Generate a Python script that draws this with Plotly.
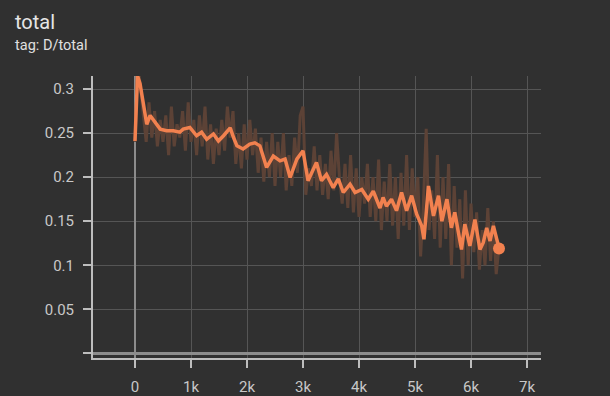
import plotly.graph_objects as go

# raw values, every 50 steps
raw_steps = list(range(0, 6501, 50))
raw_vals = [0.24, 0.33, 0.30, 0.27, 0.24, 0.285, 0.245, 0.275, 0.235, 0.265,
            0.24, 0.27, 0.225, 0.28, 0.235, 0.26, 0.245, 0.275, 0.23, 0.285,
            0.24, 0.265, 0.225, 0.27, 0.235, 0.28, 0.22, 0.26, 0.215, 0.255,
            0.225, 0.265, 0.23, 0.28, 0.245, 0.275, 0.215, 0.25, 0.21, 0.26,
            0.22, 0.265, 0.225, 0.255, 0.205, 0.245, 0.195, 0.24, 0.20, 0.25,
            0.19, 0.24, 0.20, 0.25, 0.185, 0.225, 0.19, 0.245, 0.205, 0.27,
            0.28, 0.18, 0.21, 0.19, 0.235, 0.185, 0.225, 0.18, 0.215, 0.175,
            0.23, 0.185, 0.25, 0.20, 0.17, 0.215, 0.165, 0.225, 0.16, 0.21,
            0.155, 0.20, 0.17, 0.215, 0.155, 0.20, 0.15, 0.22, 0.14, 0.195,
            0.15, 0.215, 0.145, 0.20, 0.13, 0.205, 0.145, 0.225, 0.14, 0.21,
            0.155, 0.20, 0.11, 0.17, 0.255, 0.14, 0.185, 0.13, 0.225, 0.12,
            0.20, 0.13, 0.215, 0.10, 0.19, 0.12, 0.175, 0.085, 0.185, 0.10,
            0.17, 0.115, 0.16, 0.095, 0.14, 0.10, 0.165, 0.105, 0.15, 0.09,
            0.12]

# smoothed values
smooth_steps = [0, 45, 90, 150, 210, 270, 360, 450, 565, 685, 800, 860, 980,
                1100, 1190, 1280, 1400, 1490, 1580, 1700, 1760, 1820, 1930,
                2050, 2140, 2230, 2350, 2470, 2590, 2680, 2770, 2890, 3000,
                3090, 3240, 3330, 3420, 3540, 3630, 3720, 3840, 3930, 4050,
                4165, 4255, 4375, 4430, 4490, 4580, 4670, 4760, 4850, 4940,
                5030, 5120, 5160, 5240, 5330, 5420, 5480, 5570, 5650, 5710,
                5830, 5890, 5980, 6070, 6160, 6220, 6280, 6340, 6400, 6490,
                6500]
smooth_vals = [0.241, 0.315, 0.306, 0.28, 0.26, 0.27, 0.262, 0.2545, 0.2526,
               0.2526, 0.251, 0.2545, 0.2564, 0.247, 0.251, 0.243, 0.249, 0.241,
               0.247, 0.256, 0.245, 0.2356, 0.232, 0.2375, 0.239, 0.2356, 0.211,
               0.224, 0.2185, 0.2205, 0.1996, 0.2205, 0.23, 0.196, 0.2167, 0.196,
               0.203, 0.188, 0.198, 0.1826, 0.192, 0.1826, 0.186, 0.175, 0.184,
               0.165, 0.177, 0.167, 0.175, 0.162, 0.1826, 0.162, 0.179, 0.158,
               0.1447, 0.1295, 0.190, 0.156, 0.179, 0.150, 0.175, 0.1425, 0.16,
               0.118, 0.1466, 0.122, 0.152, 0.118, 0.126, 0.1425, 0.1276, 0.1447,
               0.122, 0.119]

y_ticks = [0, 0.05, 0.1, 0.15, 0.2, 0.25, 0.3]
y_labels = ["", "0.05", "0.1", "0.15", "0.2", "0.25", "0.3"]
x_ticks = [0, 1000, 2000, 3000, 4000, 5000, 6000, 7000]
x_labels = ["0", "1k", "2k", "3k", "4k", "5k", "6k", "7k"]

BG = "#303030"
ORANGE = "#f2814f"
RAW = "#5c4236"
GRID = "#555555"
ZERO = "#8c8c8c"
AXIS = "#bdbdbd"
TXT = "#c8c8c8"

fig = go.Figure()
fig.add_trace(go.Scatter(x=raw_steps, y=raw_vals, mode="lines",
                         line=dict(color=RAW, width=3), hoverinfo="skip"))
fig.add_trace(go.Scatter(x=smooth_steps, y=smooth_vals, mode="lines",
                         line=dict(color=ORANGE, width=3.5)))
fig.add_trace(go.Scatter(x=[smooth_steps[-1]], y=[smooth_vals[-1]], mode="markers",
                         marker=dict(color=ORANGE, size=12)))

L, R, T, B = 93, 69, 76, 38
pw = 610 - L - R
ph = 396 - T - B

fig.update_layout(
    width=610, height=396,
    paper_bgcolor=BG, plot_bgcolor=BG,
    showlegend=False,
    margin=dict(l=L, r=R, t=T, b=B, autoexpand=False),
    font=dict(family="Roboto", color=TXT, size=14),
    annotations=[
        dict(text="total", x=(13 - L) / pw, y=1 + (T - 8) / ph, xref="paper", yref="paper",
             showarrow=False, xanchor="left", yanchor="top",
             font=dict(size=20, color="#e6e6e6")),
        dict(text="tag: D/total", x=(13 - L) / pw, y=1 + (T - 35) / ph, xref="paper",
             yref="paper", showarrow=False, xanchor="left", yanchor="top",
             font=dict(size=14.5, color="#e0e0e0")),
    ],
)

fig.update_xaxes(range=[-750, 7250], tickvals=x_ticks, ticktext=x_labels,
                 automargin=False,
                 showgrid=True, gridcolor=GRID, gridwidth=1,
                 zeroline=True, zerolinecolor=ZERO, zerolinewidth=2,
                 showline=True, linecolor=AXIS, linewidth=2,
                 ticks="outside", ticklen=8, tickcolor=AXIS, tickwidth=2,
                 ticklabelstandoff=6, tickfont=dict(size=15, color=TXT))
fig.update_yaxes(range=[-0.0052, 0.3148], tickvals=y_ticks, ticktext=y_labels,
                 automargin=False,
                 showgrid=True, gridcolor=GRID, gridwidth=1,
                 zeroline=True, zerolinecolor=ZERO, zerolinewidth=3,
                 showline=True, linecolor=AXIS, linewidth=2,
                 ticks="outside", ticklen=8, tickcolor=AXIS, tickwidth=2,
                 ticklabelstandoff=6, tickfont=dict(size=15, color=TXT))

fig.write_html("out.html", config={"displayModeBar": False},
               post_script="document.body.style.margin='0';")
